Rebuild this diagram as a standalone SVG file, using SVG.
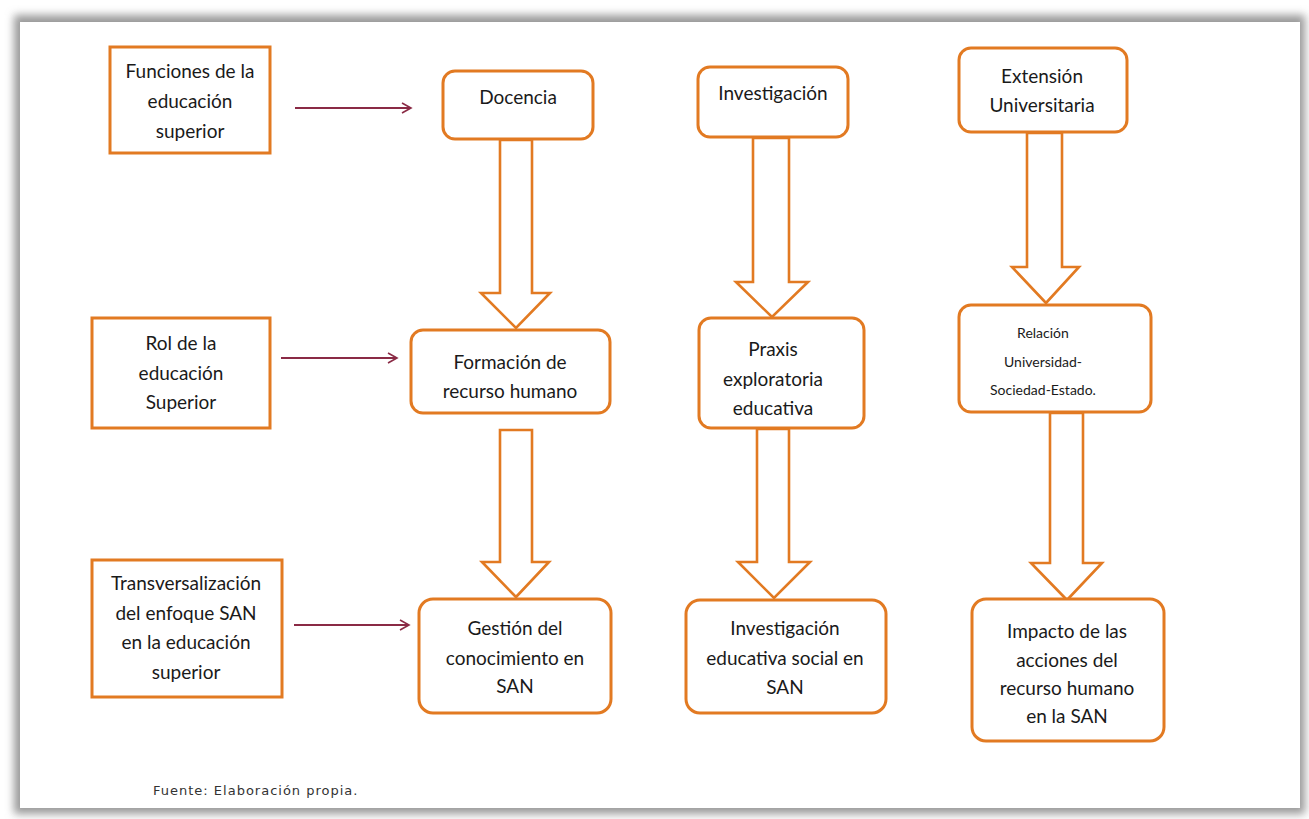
<svg xmlns="http://www.w3.org/2000/svg" width="1309" height="819" viewBox="0 0 1309 819">
<defs>
<filter id="blur" x="-5%" y="-5%" width="110%" height="110%"><feGaussianBlur stdDeviation="4"/></filter>
<marker id="thin" markerWidth="12" markerHeight="12" refX="10" refY="6" orient="auto" markerUnits="userSpaceOnUse">
<path d="M1,1 L10,6 L1,11" fill="none" stroke="#8a2a45" stroke-width="1.6"/>
</marker>
<style>
.box{fill:#ffffff;stroke:#e27a22;stroke-width:3}
.blk{fill:#ffffff;stroke:#e27a22;stroke-width:2.6;stroke-linejoin:miter}
.t{font-family:Lato,"Open Sans",sans-serif;font-size:19px;fill:#1a1a1a;text-anchor:middle}
.ts{font-family:Lato,"Open Sans",sans-serif;font-size:14px;fill:#1a1a1a;text-anchor:middle}
.ln{stroke:#8a2a45;stroke-width:2;fill:none;marker-end:url(#thin)}
.src{font-family:"DejaVu Sans",sans-serif;font-size:13px;letter-spacing:1px;fill:#333333}
</style>
</defs>
<rect width="1309" height="819" fill="#ffffff"/>
<g id="frame">
<rect x="14" y="15" width="1291" height="799" fill="#9a9a9a" filter="url(#blur)"/>
<rect x="20" y="22" width="1280" height="786" fill="#ffffff"/>
</g>
<g id="connectors">
<line class="ln" x1="295" y1="108" x2="411" y2="108"/>
<line class="ln" x1="281" y1="358" x2="397" y2="358"/>
<line class="ln" x1="294" y1="625" x2="409" y2="625"/>
<polygon class="blk" points="500,140 532,140 532,293 550,293 516,328 481,293 500,293"/>
<polygon class="blk" points="500,430 532,430 532,562 549,562 516,597 482,562 500,562"/>
<polygon class="blk" points="753,138 789,138 789,282 808,282 772,317 736,282 753,282"/>
<polygon class="blk" points="757,429 789,429 789,562 810,562 774,598 738,562 757,562"/>
<polygon class="blk" points="1027,133 1062,133 1062,267 1079,267 1046,303 1012,267 1027,267"/>
<polygon class="blk" points="1050,413 1083,413 1083,563 1102,563 1067,600 1031,563 1050,563"/>
</g>
<g id="n-funciones">
<rect class="box" x="110" y="47" width="160" height="106"/>
<text class="t" x="190" y="78">Funciones de la</text>
<text class="t" x="190" y="108">educación</text>
<text class="t" x="190" y="138">superior</text>
</g>
<g id="n-docencia">
<rect class="box" x="443" y="71" width="150" height="68" rx="12"/>
<text class="t" x="518" y="104">Docencia</text>
</g>
<g id="n-investigacion">
<rect class="box" x="698" y="67" width="150" height="70" rx="12"/>
<text class="t" x="773" y="100">Investigación</text>
</g>
<g id="n-extension">
<rect class="box" x="959" y="48" width="168" height="84" rx="12"/>
<text class="t" x="1042" y="83">Extensión</text>
<text class="t" x="1042" y="112">Universitaria</text>
</g>
<g id="n-rol">
<rect class="box" x="92" y="318" width="178" height="110"/>
<text class="t" x="181" y="350">Rol de la</text>
<text class="t" x="181" y="380">educación</text>
<text class="t" x="181" y="409">Superior</text>
</g>
<g id="n-formacion">
<rect class="box" x="411" y="330" width="199" height="83" rx="12"/>
<text class="t" x="510" y="369">Formación de</text>
<text class="t" x="510" y="398">recurso humano</text>
</g>
<g id="n-praxis">
<rect class="box" x="699" y="318" width="165" height="110" rx="12"/>
<text class="t" x="773" y="356">Praxis</text>
<text class="t" x="773" y="386">exploratoria</text>
<text class="t" x="773" y="415">educativa</text>
</g>
<g id="n-relacion">
<rect class="box" x="959" y="305" width="192" height="107" rx="12"/>
<text class="ts" x="1043" y="338">Relación</text>
<text class="ts" x="1043" y="367">Universidad-</text>
<text class="ts" x="1043" y="395">Sociedad-Estado.</text>
</g>
<g id="n-transversalizacion">
<rect class="box" x="92" y="560" width="190" height="137"/>
<text class="t" x="186" y="590">Transversalización</text>
<text class="t" x="186" y="620">del enfoque SAN</text>
<text class="t" x="186" y="649">en la educación</text>
<text class="t" x="186" y="679">superior</text>
</g>
<g id="n-gestion">
<rect class="box" x="419" y="599" width="192" height="114" rx="14"/>
<text class="t" x="515" y="635">Gestión del</text>
<text class="t" x="515" y="665">conocimiento en</text>
<text class="t" x="515" y="693">SAN</text>
</g>
<g id="n-investigacion-social">
<rect class="box" x="686" y="600" width="200" height="113" rx="14"/>
<text class="t" x="785" y="635">Investigación</text>
<text class="t" x="785" y="665">educativa social en</text>
<text class="t" x="785" y="694">SAN</text>
</g>
<g id="n-impacto">
<rect class="box" x="972" y="599" width="192" height="142" rx="14"/>
<text class="t" x="1067" y="638">Impacto de las</text>
<text class="t" x="1067" y="667">acciones del</text>
<text class="t" x="1067" y="695">recurso humano</text>
<text class="t" x="1067" y="723">en la SAN</text>
</g>
<g id="source">
<text class="src" x="153" y="795">Fuente: Elaboración propia.</text>
</g>
</svg>
